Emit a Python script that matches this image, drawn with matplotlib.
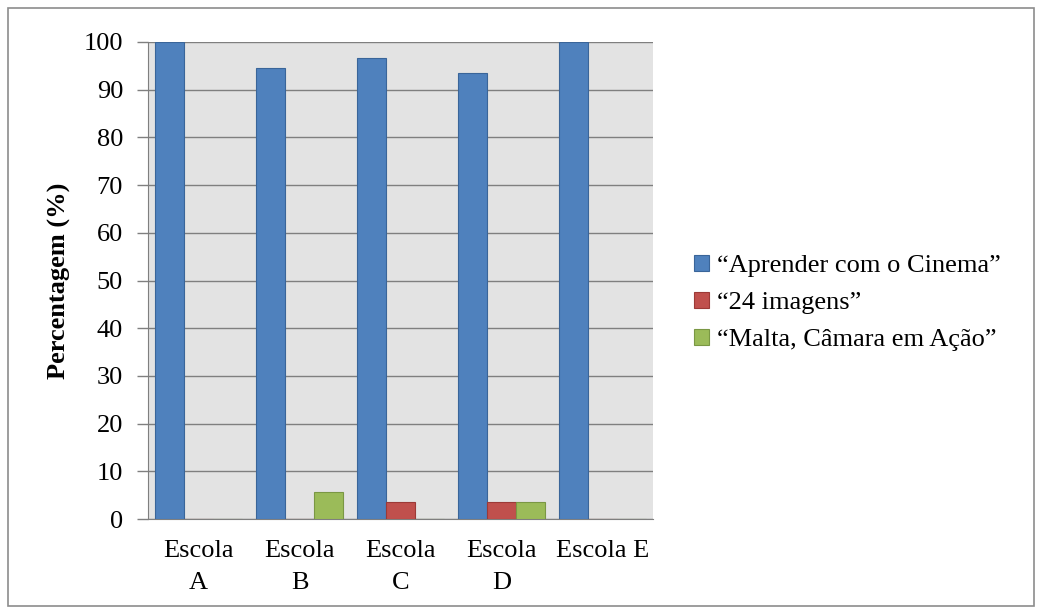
import matplotlib
matplotlib.use("Agg")
import matplotlib.pyplot as plt
import numpy as np

categories = ["Escola\nA", "Escola\nB", "Escola\nC", "Escola\nD", "Escola E"]
series_names = ["\u201cAprender com o Cinema\u201d", "\u201c24 imagens\u201d", "\u201cMalta, C\u00e2mara em A\u00e7\u00e3o\u201d"]
aprender = [100, 94.5, 96.6, 93.5, 100]
imagens24 = [0, 0, 3.6, 3.6, 0]
malta = [0, 5.7, 0, 3.6, 0]
yticks = [0, 10, 20, 30, 40, 50, 60, 70, 80, 90, 100]

plt.rcParams['font.family'] = ['Liberation Serif', 'DejaVu Serif']

fig = plt.figure(figsize=(10.42, 6.12), dpi=100)
fig.patch.set_facecolor('white')
# outer border
fig.add_artist(plt.Rectangle((8/1042, 6/612), 1026/1042, 598/612, transform=fig.transFigure,
                             fill=False, edgecolor='#8c8c8c', linewidth=1.2))

ax = fig.add_axes([148/1042, 1-519/612, 505/1042, 477/612])
ax.set_facecolor('#e3e3e3')

x = np.arange(len(categories))
w = 0.29
colors = ['#4F81BD', '#C0504D', '#9BBB59']
edges = ['#3a6599', '#9c3a37', '#7a9744']
data = [aprender, imagens24, malta]
for i, (vals, c, e, name) in enumerate(zip(data, colors, edges, series_names)):
    ax.bar(x + (i - 1) * w, vals, width=w, color=c, edgecolor=e, linewidth=0.8,
           label=name, zorder=3)

ax.set_xlim(-0.5, len(categories) - 0.5)
ax.set_ylim(0, 100)
ax.set_yticks(yticks)
ax.set_yticklabels([str(t) for t in yticks], fontsize=19)
ax.grid(axis='y', color='#7f7f7f', linewidth=1.0, zorder=1)
ax.set_axisbelow(True)
ax.tick_params(axis='y', length=8, width=1, color='#7f7f7f', pad=10)
ax.set_xticks(x)
ax.set_xticklabels(categories, fontsize=19, linespacing=1.6)
ax.tick_params(axis='x', length=0, pad=15)
for s in ['top', 'right']:
    ax.spines[s].set_visible(False)
ax.spines['left'].set_color('#7f7f7f')
ax.spines['bottom'].set_color('#7f7f7f')
ax.set_ylabel('Percentagem (%)', fontsize=19, fontweight='bold', labelpad=9)

leg = fig.legend(loc='center left', bbox_to_anchor=(694/1042, 1-303/612), frameon=False,
                 fontsize=19, handlelength=0.57, handleheight=0.57, handletextpad=0.3,
                 labelspacing=0.55, borderpad=0, borderaxespad=0)

fig.savefig('out.png', dpi=100)
